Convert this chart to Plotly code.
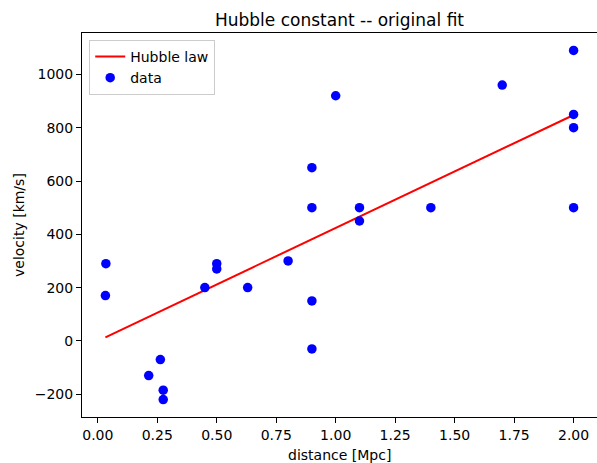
import numpy as np
import plotly.graph_objects as go

distance = [0.032, 0.034, 0.214, 0.263, 0.275, 0.275, 0.45, 0.5, 0.5, 0.63, 0.8, 0.9,
            0.9, 0.9, 0.9, 1.0, 1.1, 1.1, 1.4, 1.7, 2.0, 2.0, 2.0, 2.0]
velocity = [170, 290, -130, -70, -185, -220, 200, 290, 270, 200, 300, -30,
            650, 150, 500, 920, 450, 500, 500, 960, 500, 850, 800, 1090]

x = np.array(distance)
v = np.array(velocity)
# least-squares fit through the origin (Hubble law v = H0 * d)
H0 = float(np.sum(x * v) / np.sum(x * x))
fit_x = [x.min(), x.max()]
fit_y = [H0 * fit_x[0], H0 * fit_x[1]]

FONT = "DejaVu Sans"
W, H = 597, 463
L, R, T, B = 82, 0, 33, 46

fig = go.Figure()
fig.add_trace(go.Scatter(x=fit_x, y=fit_y, mode="lines", name="Hubble law",
                         line=dict(color="red", width=2)))
fig.add_trace(go.Scatter(x=distance, y=velocity, mode="markers", name="data",
                         marker=dict(color="blue", size=9.5, line=dict(width=0))))

axis_common = dict(showgrid=False, zeroline=False, showline=True, linecolor="black",
                   linewidth=1, ticks="outside", ticklen=5, tickwidth=1,
                   tickcolor="black", automargin=False,
                   tickfont=dict(family=FONT, size=14, color="black"))

fig.update_layout(
    width=W, height=H,
    margin=dict(l=L, r=R, t=T, b=B, autoexpand=False),
    paper_bgcolor="white", plot_bgcolor="white",
    title=dict(text="Hubble constant -- original fit", x=0.5, xref="paper",
               xanchor="center", yref="container", y=1 - 20 / H, yanchor="middle",
               font=dict(family=FONT, size=17, color="black")),
    xaxis=dict(range=[-0.0664, 2.0984], tickmode="array", mirror=True,
               tickvals=[0, 0.25, 0.5, 0.75, 1.0, 1.25, 1.5, 1.75, 2.0],
               tickformat=".2f", **axis_common),
    yaxis=dict(range=[-285.5, 1155.5], tickmode="array", mirror=False,
               tickvals=[-200, 0, 200, 400, 600, 800, 1000],
               ticktext=["\u2212200", "0", "200", "400", "600", "800", "1000"],
               **axis_common),
    legend=dict(x=0.014, y=0.982, xanchor="left", yanchor="top",
                bgcolor="rgba(255,255,255,0.8)", bordercolor="#cccccc", borderwidth=1,
                font=dict(family=FONT, size=14, color="black"),
                tracegroupgap=0, itemwidth=30),
    showlegend=True,
    annotations=[
        dict(text="distance [Mpc]", xref="paper", yref="paper", x=0.5,
             y=-(455 - (H - B)) / (H - T - B), xanchor="center", yanchor="middle",
             showarrow=False, font=dict(family=FONT, size=14, color="black")),
        dict(text="velocity [km/s]", xref="paper", yref="paper",
             x=-(L - 19) / (W - L - R), y=0.5, xanchor="center", yanchor="middle",
             textangle=-90, showarrow=False,
             font=dict(family=FONT, size=14, color="black")),
    ],
)

fig.write_html(
    "out.html",
    config={"displayModeBar": False},
    post_script="document.body.style.margin='0';document.body.style.overflow='hidden';"
                "document.documentElement.style.overflow='hidden';",
)
